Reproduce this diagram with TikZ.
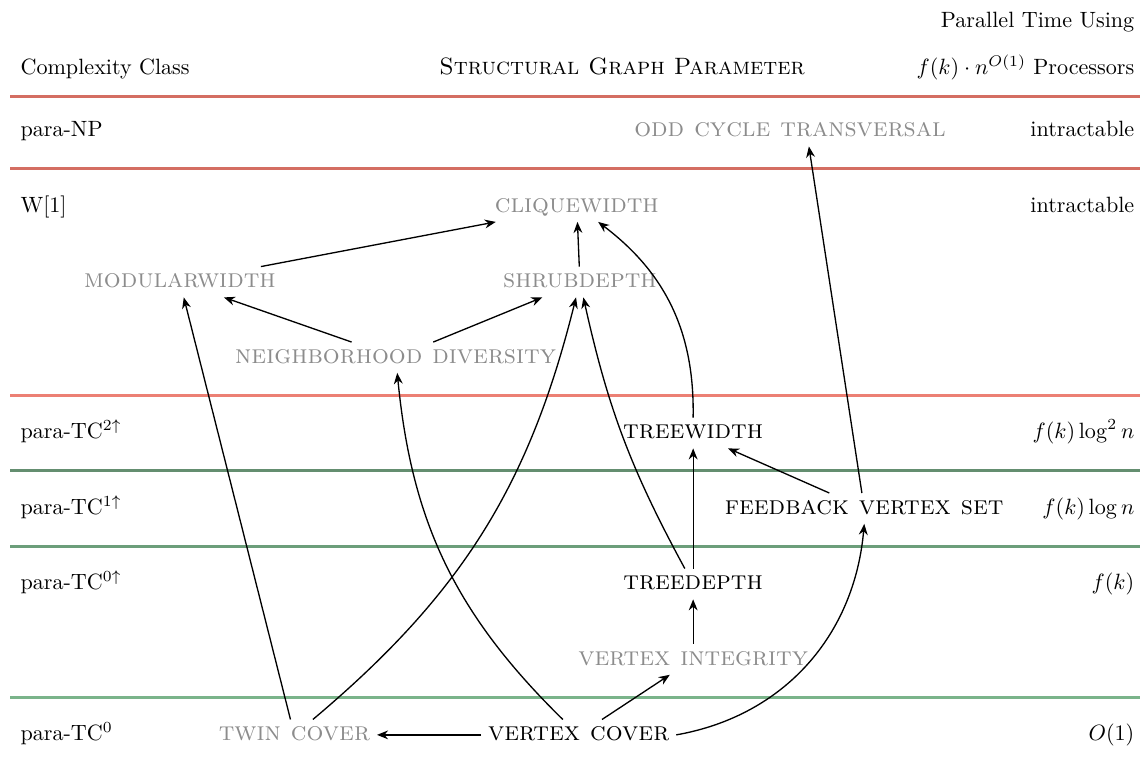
\documentclass[tikz,border=0pt]{standalone}
\usetikzlibrary{arrows.meta}

\definecolor{redA}{RGB}{212,110,98}
\definecolor{redB}{RGB}{236,128,116}
\definecolor{greenA}{RGB}{100,142,112}
\definecolor{greenB}{RGB}{108,158,122}
\definecolor{greenC}{RGB}{122,180,138}

\newcommand{\pname}[1]{{\large\scshape #1}}

\begin{document}
\begin{tikzpicture}[
    % Parameter nodes
    pm/.style={
        text height=1.5ex, text depth=0.25ex,
        inner sep=3pt, align=center
    },
    % Parameters shown in gray
    pmg/.style={pm, text=black!45},
    % Class labels (left) and times (right)
    cls/.style={anchor=west, inner sep=0pt, text height=1.5ex, text depth=0.25ex},
    tm/.style={anchor=east, inner sep=0pt, text height=1.5ex, text depth=0.25ex},
    hd/.style={inner sep=0pt},
    arr/.style={draw, semithick, -{Stealth[length=5pt,width=4pt]}},
    sep/.style={line width=1.4pt}
]
\useasboundingbox (0,2.083) rectangle (18.124,-10.159);

% ---- HEADER ----
\node[hd, anchor=base west] (h_cls) at (0.32, 0.906) {Complexity Class};
\node[hd, anchor=base] (h_par) at (9.89, 0.906)
    {\fontsize{10.7pt}{13pt}\selectfont\scshape Structural Graph Parameter};
\node[hd, anchor=base east] (h_tm1) at (18.04, 1.64) {Parallel Time Using};
\node[hd, anchor=base east] (h_tm2) at (18.04, 0.906) {$f(k)\cdot n^{O(1)}$ Processors};

% ---- SEPARATORS ----
\draw[sep, redA]   (0.16,  0.556) -- (18.124,  0.556);
\draw[sep, redA]   (0.16, -0.6)   -- (18.124, -0.6);
\draw[sep, redB]   (0.16, -4.2)   -- (18.124, -4.2);
\draw[sep, greenA] (0.16, -5.4)   -- (18.124, -5.4);
\draw[sep, greenB] (0.16, -6.6)   -- (18.124, -6.6);
\draw[sep, greenC] (0.16, -9.0)   -- (18.124, -9.0);

% ---- CLASSES ----
\node[cls] (c_np)   at (0.32,  0.0) {para-NP};
\node[cls] (c_w1)   at (0.32, -1.2) {W[1]};
\node[cls] (c_tc2)  at (0.32, -4.8) {para-TC$^{2\uparrow}$};
\node[cls] (c_tc1)  at (0.32, -6.0) {para-TC$^{1\uparrow}$};
\node[cls] (c_tc0u) at (0.32, -7.2) {para-TC$^{0\uparrow}$};
\node[cls] (c_tc0)  at (0.32, -9.6) {para-TC$^{0}$};

% ---- TIMES ----
\node[tm] (t_np)   at (18.04,  0.0) {intractable};
\node[tm] (t_w1)   at (18.04, -1.2) {intractable};
\node[tm] (t_tc2)  at (18.04, -4.8) {$f(k)\log^2 n$};
\node[tm] (t_tc1)  at (18.04, -6.0) {$f(k)\log n$};
\node[tm] (t_tc0u) at (18.04, -7.2) {$f(k)$};
\node[tm] (t_tc0)  at (18.04, -9.6) {$O(1)$};

% ---- PARAMETERS ----
\node[pmg] (oct)   at (12.56,  0.0) {\pname{odd cycle transversal}};
\node[pmg] (cliq)  at ( 9.17, -1.2) {\pname{cliquewidth}};
\node[pmg] (modw)  at ( 2.86, -2.4) {\pname{modularwidth}};
\node[pmg] (shrub) at ( 9.22, -2.4) {\pname{shrubdepth}};
\node[pmg] (ndiv)  at ( 6.29, -3.6) {\pname{neighborhood diversity}};
\node[pm]  (tw)    at (11.02, -4.8) {\pname{treewidth}};
\node[pm]  (fvs)   at (13.74, -6.0) {\pname{feedback vertex set}};
\node[pm]  (td)    at (11.02, -7.2) {\pname{treedepth}};
\node[pmg] (vi)    at (11.02, -8.4) {\pname{vertex integrity}};
\node[pmg] (tcov)  at ( 4.68, -9.6) {\pname{twin cover}};
\node[pm]  (vc)    at ( 9.20, -9.6) {\pname{vertex cover}};

% ---- ARROWS ----
\draw[arr] (modw)  -- (cliq);
\draw[arr] (shrub) -- (cliq);
\draw[arr] (tw) to[bend right=27] (cliq);
\draw[arr] (ndiv)  -- (modw);
\draw[arr] (ndiv)  -- (shrub);
\draw[arr] (fvs)   -- ([xshift=0.3cm]oct.south);
\draw[arr] (fvs)   -- (tw);
\draw[arr] (td)    -- (tw);
\draw[arr] (td) to[bend left=8] (shrub);
\draw[arr] (vi)    -- (td);
\draw[arr] (tcov)  -- (modw);
\draw[arr] (tcov) to[bend right=18] (shrub);
\draw[arr] (vc)    -- (tcov);
\draw[arr] (vc) to[bend left=20] (ndiv);
\draw[arr] (vc)    -- (vi);
\draw[arr] (vc.east) to[out=10, in=-95] (fvs.south);

\end{tikzpicture}
\end{document}
